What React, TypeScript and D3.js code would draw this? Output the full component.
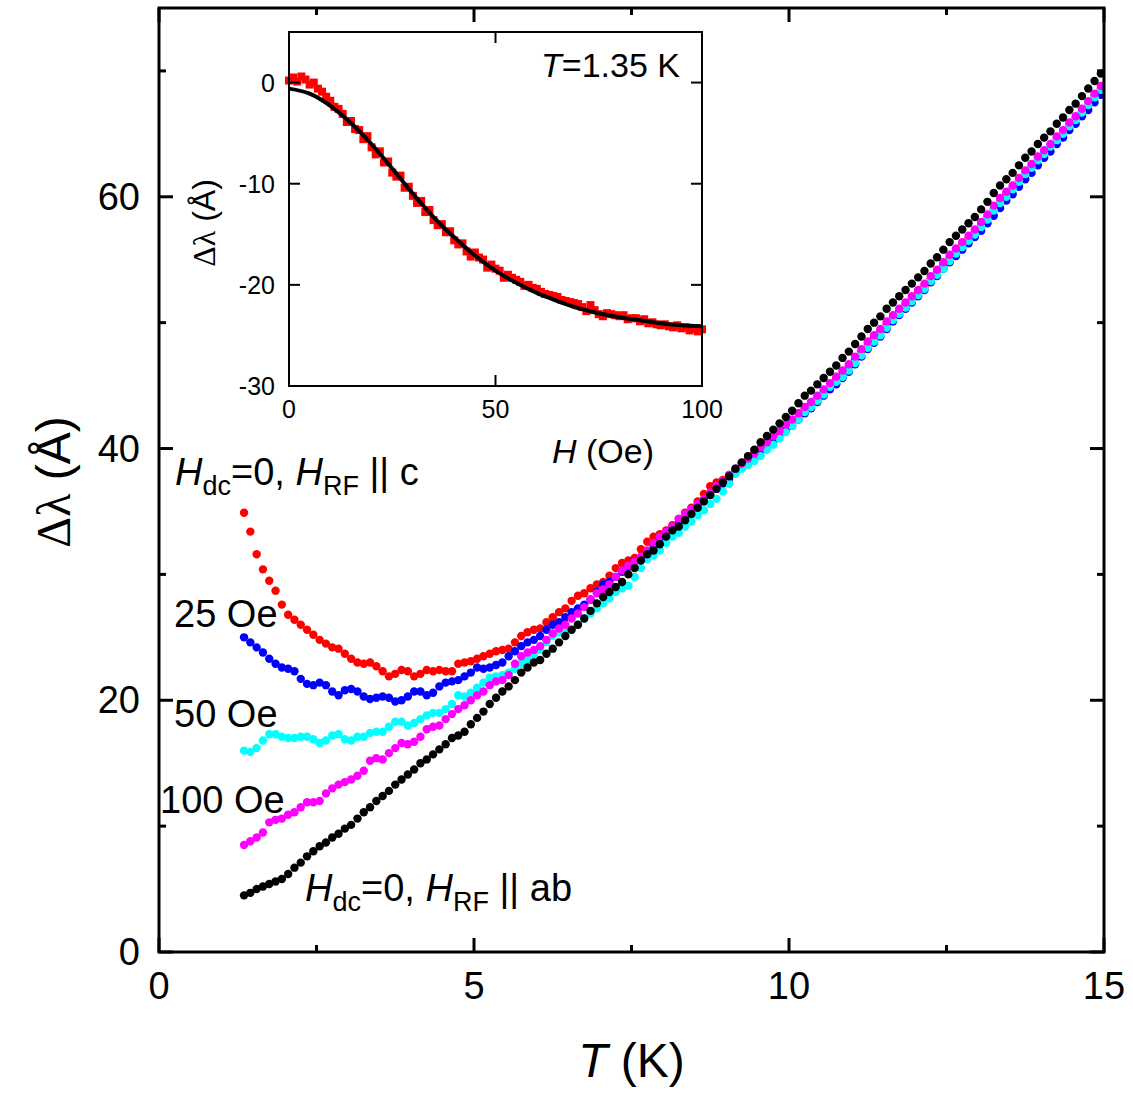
import React from 'react';
import * as d3 from 'd3';

// Main panel: temperature (K) shared by all sweeps
const TEMPS = [
  1.35, 1.45, 1.55, 1.65, 1.75, 1.85, 1.95,
  2.05, 2.15, 2.25, 2.35, 2.45, 2.55, 2.65, 2.75, 2.85, 2.95,
  3.05, 3.15, 3.25, 3.35, 3.45, 3.55, 3.65, 3.75, 3.85, 3.95,
  4.05, 4.15, 4.25, 4.35, 4.45, 4.55, 4.65, 4.75, 4.85, 4.95,
  5.05, 5.15, 5.25, 5.35, 5.45, 5.55, 5.65, 5.75, 5.85, 5.95,
  6.05, 6.15, 6.25, 6.35, 6.45, 6.55, 6.65, 6.75, 6.85, 6.95,
  7.05, 7.15, 7.25, 7.35, 7.45, 7.55, 7.65, 7.75, 7.85, 7.95,
  8.05, 8.15, 8.25, 8.35, 8.45, 8.55, 8.65, 8.75, 8.85, 8.95,
  9.05, 9.15, 9.25, 9.35, 9.45, 9.55, 9.65, 9.75, 9.85, 9.95,
  10.05, 10.15, 10.25, 10.35, 10.45, 10.55, 10.65, 10.75, 10.85, 10.95,
  11.05, 11.15, 11.25, 11.35, 11.45, 11.55, 11.65, 11.75, 11.85, 11.95,
  12.05, 12.15, 12.25, 12.35, 12.45, 12.55, 12.65, 12.75, 12.85, 12.95,
  13.05, 13.15, 13.25, 13.35, 13.45, 13.55, 13.65, 13.75, 13.85, 13.95,
  14.05, 14.15, 14.25, 14.35, 14.45, 14.55, 14.65, 14.75, 14.85, 14.95,
];

// H_RF || c, H_dc = 0
const DL_C_0 = [
  34.9, 33.4, 31.6, 30.4, 29.5, 28.7, 27.6,
  26.8, 26.4, 26.0, 25.6, 25.2, 24.8, 24.5, 24.2, 24.1, 23.7,
  23.3, 23.0, 22.9, 23.0, 22.7, 22.3, 21.9, 22.1, 22.4, 22.3,
  21.9, 22.1, 22.4, 22.3, 22.4, 22.3, 22.3, 22.9, 23.0, 23.1,
  23.3, 23.5, 23.7, 23.9, 24.0, 24.1, 24.6, 25.1, 25.4, 25.6,
  25.7, 26.2, 26.6, 27.0, 27.3, 27.9, 28.3, 28.5, 28.9, 29.2,
  29.4, 29.9, 30.5, 30.9, 31.1, 31.3, 32.0, 32.6, 33.0, 33.2,
  33.5, 33.9, 34.4, 34.9, 35.3, 35.8, 36.4, 37.0, 37.3, 37.5,
  37.9, 38.3, 38.7, 39.1, 39.6, 40.0, 40.5, 41.0, 41.4, 41.9,
  42.3, 42.8, 43.2, 43.6, 44.0, 44.5, 45.0, 45.5, 46.0, 46.5,
  47.1, 47.7, 48.3, 48.8, 49.3, 49.9, 50.4, 50.9, 51.4, 51.9,
  52.4, 52.9, 53.5, 54.0, 54.6, 55.2, 55.7, 56.2, 56.7, 57.2,
  57.8, 58.4, 59.0, 59.6, 60.2, 60.7, 61.3, 61.9, 62.4, 63.0,
  63.5, 64.0, 64.6, 65.1, 65.7, 66.2, 66.8, 67.4, 68.0, 68.6,
];

// 25 Oe
const DL_C_25 = [
  25.0, 24.6, 24.2, 23.8, 23.3, 22.9, 22.6,
  22.5, 22.3, 21.7, 21.3, 21.2, 21.4, 21.2, 20.7, 20.4, 20.8,
  20.9, 20.7, 20.3, 20.1, 20.2, 20.3, 20.2, 19.9, 20.0, 20.3,
  20.7, 20.7, 20.4, 20.6, 21.1, 21.4, 21.5, 21.6, 21.9, 22.2,
  22.6, 22.5, 22.6, 22.8, 23.0, 23.5, 23.9, 24.3, 24.6, 24.8,
  25.1, 25.6, 26.0, 26.2, 26.6, 27.0, 27.3, 27.6, 28.0, 28.6,
  29.2, 29.4, 29.8, 30.2, 30.6, 31.0, 31.3, 31.8, 32.3, 32.8,
  33.3, 33.7, 34.0, 34.4, 34.9, 35.4, 35.8, 36.3, 36.8, 37.2,
  37.6, 38.1, 38.5, 38.9, 39.3, 39.8, 40.2, 40.6, 41.1, 41.5,
  41.8, 42.3, 42.8, 43.2, 43.7, 44.2, 44.7, 45.1, 45.6, 46.1,
  46.7, 47.3, 47.9, 48.4, 48.9, 49.5, 50.1, 50.6, 51.1, 51.6,
  52.1, 52.6, 53.2, 53.7, 54.3, 54.8, 55.3, 55.8, 56.3, 56.8,
  57.3, 57.9, 58.5, 59.1, 59.7, 60.2, 60.8, 61.4, 61.9, 62.5,
  63.1, 63.6, 64.2, 64.7, 65.3, 65.8, 66.4, 66.9, 67.5, 68.1,
];

// 50 Oe
const DL_C_50 = [
  16.0, 15.9, 16.2, 16.8, 17.3, 17.3, 17.1,
  17.0, 17.0, 17.1, 17.1, 16.9, 16.6, 16.8, 17.2, 17.3, 16.9,
  16.8, 17.1, 17.1, 17.4, 17.5, 17.5, 17.9, 18.3, 18.3, 18.0,
  18.2, 18.5, 18.8, 19.0, 19.0, 19.3, 19.7, 20.4, 20.3, 20.6,
  21.0, 21.4, 21.8, 21.9, 22.0, 22.2, 22.5, 22.9, 23.2, 23.6,
  24.0, 24.6, 25.1, 25.4, 25.5, 25.6, 26.0, 26.5, 26.9, 27.3,
  27.7, 28.1, 28.6, 28.9, 29.1, 29.8, 30.5, 31.2, 31.5, 31.9,
  32.5, 33.0, 33.3, 33.8, 34.2, 34.7, 35.1, 35.6, 36.0, 36.6,
  37.2, 38.0, 38.4, 38.7, 39.0, 39.4, 39.9, 40.3, 40.8, 41.3,
  41.8, 42.3, 42.9, 43.3, 43.8, 44.3, 44.9, 45.3, 45.7, 46.2,
  46.8, 47.4, 48.0, 48.5, 49.0, 49.6, 50.2, 50.7, 51.2, 51.7,
  52.2, 52.7, 53.3, 53.8, 54.3, 54.9, 55.5, 56.0, 56.5, 57.0,
  57.6, 58.2, 58.9, 59.5, 60.0, 60.6, 61.2, 61.8, 62.3, 62.9,
  63.4, 64.0, 64.5, 65.0, 65.6, 66.1, 66.7, 67.3, 67.9, 68.5,
];

// 100 Oe
const DL_C_100 = [
  8.5, 8.8, 9.1, 9.5, 10.3, 10.5, 10.6,
  10.9, 11.1, 11.5, 11.9, 11.9, 12.0, 12.6, 13.0, 13.3, 13.5,
  13.7, 14.0, 14.4, 15.2, 15.4, 15.3, 15.8, 16.2, 16.6, 16.5,
  16.7, 17.1, 17.7, 17.9, 18.0, 18.5, 18.9, 19.3, 19.6, 20.0,
  20.4, 20.7, 21.2, 21.5, 21.6, 22.0, 22.9, 23.5, 23.8, 24.0,
  24.3, 24.8, 25.3, 25.7, 26.0, 26.5, 26.9, 27.4, 28.0, 28.5,
  28.8, 29.2, 29.8, 30.3, 30.7, 31.0, 31.4, 31.9, 32.5, 33.0,
  33.4, 33.8, 34.4, 34.8, 35.2, 35.6, 36.0, 36.5, 37.0, 37.4,
  37.9, 38.4, 38.8, 39.2, 39.6, 40.1, 40.5, 41.0, 41.4, 41.9,
  42.3, 42.8, 43.3, 43.7, 44.2, 44.7, 45.2, 45.7, 46.2, 46.7,
  47.3, 47.9, 48.5, 49.0, 49.5, 50.1, 50.6, 51.1, 51.6, 52.1,
  52.6, 53.1, 53.7, 54.2, 54.8, 55.4, 55.9, 56.4, 56.9, 57.4,
  58.0, 58.6, 59.3, 59.9, 60.4, 60.9, 61.5, 62.1, 62.6, 63.2,
  63.7, 64.2, 64.8, 65.3, 65.9, 66.4, 67.0, 67.6, 68.2, 68.8,
];

// H_RF || ab, H_dc = 0
const DL_AB_0 = [
  4.5, 4.7, 5.0, 5.2, 5.4, 5.6, 5.8,
  6.2, 6.7, 7.1, 7.6, 8.0, 8.4, 8.7, 9.1, 9.4, 9.8,
  10.1, 10.6, 11.1, 11.5, 12.0, 12.4, 12.8, 13.3, 13.7, 14.1,
  14.5, 15.0, 15.3, 15.7, 16.1, 16.5, 17.0, 17.2, 17.5, 18.1,
  18.6, 19.1, 19.7, 20.2, 20.7, 21.1, 21.6, 22.2, 22.6, 23.0,
  23.2, 23.7, 24.1, 24.6, 25.1, 25.6, 26.0, 26.5, 27.1, 27.7,
  28.2, 28.6, 29.0, 29.4, 30.0, 30.5, 31.1, 31.6, 31.9, 32.4,
  33.0, 33.5, 33.8, 34.3, 34.8, 35.3, 35.8, 36.3, 36.8, 37.3,
  37.8, 38.4, 38.9, 39.4, 39.9, 40.5, 41.0, 41.5, 42.0, 42.5,
  43.0, 43.6, 44.2, 44.6, 45.1, 45.6, 46.1, 46.6, 47.2, 47.7,
  48.3, 48.9, 49.5, 50.0, 50.5, 51.1, 51.6, 52.1, 52.6, 53.1,
  53.6, 54.1, 54.7, 55.2, 55.8, 56.4, 56.9, 57.4, 57.9, 58.4,
  59.0, 59.6, 60.3, 60.9, 61.4, 61.9, 62.5, 63.1, 63.6, 64.2,
  64.7, 65.2, 65.8, 66.3, 66.9, 67.4, 68.0, 68.6, 69.2, 69.8,
];

// Inset: field sweep at T = 1.35 K
const FIELD_OE = [
  0, 1, 2, 3, 4, 5, 6, 7, 8, 9,
  10, 11, 12, 13, 14, 15, 16, 17, 18, 19,
  20, 21, 22, 23, 24, 25, 26, 27, 28, 29,
  30, 31, 32, 33, 34, 35, 36, 37, 38, 39,
  40, 41, 42, 43, 44, 45, 46, 47, 48, 49,
  50, 51, 52, 53, 54, 55, 56, 57, 58, 59,
  60, 61, 62, 63, 64, 65, 66, 67, 68, 69,
  70, 71, 72, 73, 74, 75, 76, 77, 78, 79,
  80, 81, 82, 83, 84, 85, 86, 87, 88, 89,
  90, 91, 92, 93, 94, 95, 96, 97, 98, 99, 100,
];
const DL_FIELD = [
  0.2, 0.5, 0.1, 0.6, 0.3, -0.2, 0.0, -0.6, -0.9, -1.4,
  -1.8, -2.4, -2.6, -3.1, -3.9, -3.8, -4.6, -4.7, -5.6, -5.3,
  -6.4, -7.1, -6.8, -7.9, -7.8, -8.9, -9.3, -9.2, -10.4, -10.3,
  -11.2, -11.9, -11.7, -12.8, -12.6, -13.6, -14.1, -14.0, -14.8, -14.7,
  -15.6, -16.0, -15.9, -16.7, -17.2, -16.8, -17.3, -17.5, -18.3, -18.0,
  -18.4, -18.6, -19.3, -19.0, -19.3, -19.5, -19.7, -20.1, -20.0, -20.3,
  -20.4, -20.7, -20.9, -21.0, -21.1, -21.2, -21.5, -21.6, -21.7, -21.8,
  -21.9, -22.2, -22.6, -22.0, -22.5, -22.9, -23.1, -22.8, -22.9, -23.0,
  -23.1, -23.0, -23.4, -23.3, -23.3, -23.6, -23.4, -23.8, -23.7, -23.9,
  -24.0, -23.9, -24.1, -24.2, -24.0, -24.3, -24.2, -24.5, -24.3, -24.6, -24.4,
];
const FIT_FIELD = [0, 5, 10, 15, 20, 25, 30, 35, 40, 45, 50, 55, 60, 65, 70, 75, 80, 85, 90, 95, 100];
const FIT_DL = [
  -0.6, -1.1, -2.3, -4.0, -6.1, -8.5, -11.0, -13.3, -15.3, -17.1, -18.6,
  -19.8, -20.8, -21.6, -22.3, -22.8, -23.2, -23.5, -23.8, -24.0, -24.1,
];

const T_MAJOR = [0, 5, 10, 15];
const T_MINOR = [2.5, 7.5, 12.5];
const DL_MAJOR = [0, 20, 40, 60];
const DL_MINOR = [10, 30, 50, 70];
const H_TICKS = [0, 50, 100];
const DLH_TICKS = [-30, -20, -10, 0];

const SERIES = [
  { name: 'c, 0 Oe', values: DL_C_0, color: '#ff0000' },
  { name: 'c, 25 Oe', values: DL_C_25, color: '#0000ff' },
  { name: 'c, 50 Oe', values: DL_C_50, color: '#00ffff' },
  { name: 'c, 100 Oe', values: DL_C_100, color: '#ff00ff' },
  { name: 'ab, 0 Oe', values: DL_AB_0, color: '#000000' },
];

const FONT = '"Liberation Sans", Arial, sans-serif';

export default function App() {
  const width = 1133;
  const height = 1095;

  const x = d3.scaleLinear().domain([0, 15]).range([159, 1104]);
  const y = d3.scaleLinear().domain([0, 75]).range([952, 8]);

  const xi = d3.scaleLinear().domain([0, 100]).range([289, 702]);
  const yi = d3.scaleLinear().domain([-30, 5]).range([386, 32]);

  const fitLine = d3.line<number>()
    .x((_, i) => xi(FIT_FIELD[i]))
    .y(d => yi(d))
    .curve(d3.curveMonotoneX);

  const [x0, x1] = x.range();
  const [y0, y1] = y.range();
  const [ix0, ix1] = xi.range();
  const [iy0, iy1] = yi.range();

  return (
    <div style={{ position: 'absolute', left: 0, top: 0 }}>
      <svg width={width} height={height} style={{ display: 'block', background: '#fff' }} fontFamily={FONT}>
        {/* data points */}
        {SERIES.map(s => (
          <g key={s.name} fill={s.color}>
            {s.values.map((v, i) => (
              <circle key={i} cx={x(TEMPS[i])} cy={y(v)} r={4.2} />
            ))}
          </g>
        ))}

        {/* main frame and ticks */}
        <rect x={x0} y={y1} width={x1 - x0} height={y0 - y1} fill="none" stroke="#000" strokeWidth={3} />
        <g stroke="#000" strokeWidth={3}>
          {T_MAJOR.map(t => (
            <g key={`tM${t}`}>
              <line x1={x(t)} x2={x(t)} y1={y0} y2={y0 - 14} />
              <line x1={x(t)} x2={x(t)} y1={y1} y2={y1 + 14} />
            </g>
          ))}
          {T_MINOR.map(t => (
            <g key={`tm${t}`}>
              <line x1={x(t)} x2={x(t)} y1={y0} y2={y0 - 7} />
              <line x1={x(t)} x2={x(t)} y1={y1} y2={y1 + 7} />
            </g>
          ))}
          {DL_MAJOR.map(v => (
            <g key={`yM${v}`}>
              <line x1={x0} x2={x0 + 14} y1={y(v)} y2={y(v)} />
              <line x1={x1} x2={x1 - 14} y1={y(v)} y2={y(v)} />
            </g>
          ))}
          {DL_MINOR.map(v => (
            <g key={`ym${v}`}>
              <line x1={x0} x2={x0 + 7} y1={y(v)} y2={y(v)} />
              <line x1={x1} x2={x1 - 7} y1={y(v)} y2={y(v)} />
            </g>
          ))}
        </g>

        {/* main tick labels */}
        <g fontSize={38} fill="#000">
          {T_MAJOR.map(t => (
            <text key={t} x={x(t)} y={999} textAnchor="middle">{t}</text>
          ))}
          {DL_MAJOR.map(v => (
            <text key={v} x={140} y={y(v) + 13} textAnchor="end">{v}</text>
          ))}
        </g>

        {/* axis titles */}
        <text x={(x0 + x1) / 2} y={1077} fontSize={48} textAnchor="middle" style={{ whiteSpace: 'pre' }}>
          <tspan fontStyle="italic">T</tspan>
          <tspan>{' (K)'}</tspan>
        </text>
        <text transform={`translate(70,${(y0 + y1) / 2 + 2}) rotate(-90)`} fontSize={48} textAnchor="middle" style={{ whiteSpace: 'pre' }}>
          <tspan fontFamily='"Liberation Serif", serif'>{'Δλ'}</tspan>
          <tspan>{' (Å)'}</tspan>
        </text>

        {/* series labels */}
        <g fontSize={38} fill="#000" style={{ whiteSpace: 'pre' }}>
          <text x={175} y={485}>
            <tspan fontStyle="italic">H</tspan>
            <tspan fontSize={27} dy={10}>dc</tspan>
            <tspan dy={-10}>{'=0, '}</tspan>
            <tspan fontStyle="italic">H</tspan>
            <tspan fontSize={27} dy={10}>RF</tspan>
            <tspan dy={-10}>{' || c'}</tspan>
          </text>
          <text x={174} y={627}>25 Oe</text>
          <text x={174} y={727}>50 Oe</text>
          <text x={160} y={813}>100 Oe</text>
          <text x={305} y={901}>
            <tspan fontStyle="italic">H</tspan>
            <tspan fontSize={27} dy={10}>dc</tspan>
            <tspan dy={-10}>{'=0, '}</tspan>
            <tspan fontStyle="italic">H</tspan>
            <tspan fontSize={27} dy={10}>RF</tspan>
            <tspan dy={-10}>{' || ab'}</tspan>
          </text>
        </g>

        {/* inset */}
        <rect x={ix0} y={iy1} width={ix1 - ix0} height={iy0 - iy1} fill="#fff" stroke="none" />
        <g fill="#ff0000">
          {DL_FIELD.map((v, i) => (
            <rect key={i} x={xi(FIELD_OE[i]) - 4} y={yi(v) - 4} width={8} height={8} />
          ))}
        </g>
        <path d={fitLine(FIT_DL) || ''} fill="none" stroke="#000" strokeWidth={4} />
        <rect x={ix0} y={iy1} width={ix1 - ix0} height={iy0 - iy1} fill="none" stroke="#000" strokeWidth={2} />
        <g stroke="#000" strokeWidth={2}>
          {H_TICKS.map(h => (
            <g key={`h${h}`}>
              <line x1={xi(h)} x2={xi(h)} y1={iy0} y2={iy0 - 11} />
              <line x1={xi(h)} x2={xi(h)} y1={iy1} y2={iy1 + 11} />
            </g>
          ))}
          {DLH_TICKS.map(v => (
            <g key={`v${v}`}>
              <line x1={ix0} x2={ix0 + 11} y1={yi(v)} y2={yi(v)} />
              <line x1={ix1} x2={ix1 - 11} y1={yi(v)} y2={yi(v)} />
            </g>
          ))}
        </g>
        <g fontSize={25} fill="#000">
          {H_TICKS.map(h => (
            <text key={h} x={xi(h)} y={418} textAnchor="middle">{h}</text>
          ))}
          {DLH_TICKS.map(v => (
            <text key={v} x={275} y={yi(v) + 9} textAnchor="end">{v}</text>
          ))}
        </g>
        <text x={680} y={77} fontSize={34} textAnchor="end" style={{ whiteSpace: 'pre' }}>
          <tspan fontStyle="italic">T</tspan>
          <tspan>{'=1.35 K'}</tspan>
        </text>
        <text x={552} y={463} fontSize={34} style={{ whiteSpace: 'pre' }}>
          <tspan fontStyle="italic">H</tspan>
          <tspan>{' (Oe)'}</tspan>
        </text>
        <text transform={`translate(215,${223}) rotate(-90)`} fontSize={32} textAnchor="middle" style={{ whiteSpace: 'pre' }}>
          <tspan fontFamily='"Liberation Serif", serif'>{'Δλ'}</tspan>
          <tspan>{' (Å)'}</tspan>
        </text>
      </svg>
    </div>
  );
}
